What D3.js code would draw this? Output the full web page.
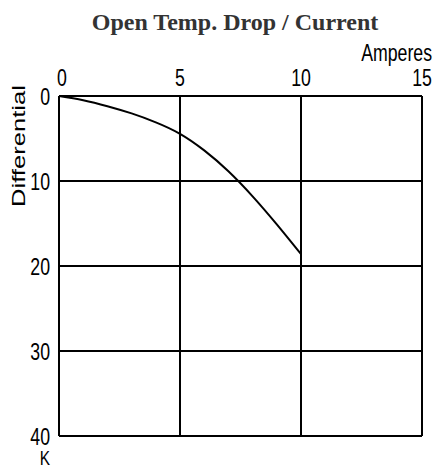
<!DOCTYPE html>
<html>
<head>
<meta charset="utf-8">
<script src="https://d3js.org/d3.v7.min.js"></script>
<style>
  body { margin: 0; background: #fff; }
  .lbl { font-family: "Liberation Sans", Arial, sans-serif; fill: #000; }
</style>
</head>
<body>
<div id="chart"></div>
<script>
// curve values
var amps = [0, 1, 2, 3, 4, 5, 6, 7, 8, 9, 10];
var diffK = [0, 0.5, 1.2, 2.05, 3.1, 4.45, 6.4, 8.85, 11.8, 15.1, 18.6];
var xTicks = [0, 5, 10, 15];
var yTicks = [0, 10, 20, 30, 40];

var W = 433, H = 470;
var margin = {top: 96, right: 10, bottom: 34, left: 59};
var squeeze = 0.77; // the labels use a narrow face

var svg = d3.select("#chart").append("svg")
    .attr("width", W)
    .attr("height", H);

var x = d3.scaleLinear().domain([0, 15]).range([margin.left, W - margin.right - 1]);
var y = d3.scaleLinear().domain([0, 40]).range([margin.top, H - margin.bottom]);

// narrow label helper
function narrow(px, py, txt, size, anchor) {
  var g = svg.append("g")
      .attr("transform", "translate(" + px + "," + py + ") scale(" + squeeze + ",1)");
  g.append("text")
      .attr("class", "lbl")
      .attr("text-anchor", anchor)
      .style("font-size", size + "px")
      .text(txt);
}

// title
svg.append("text")
    .attr("x", 235)
    .attr("y", 30)
    .attr("text-anchor", "middle")
    .style("font-family", "'Liberation Serif', 'Times New Roman', serif")
    .style("font-weight", "bold")
    .style("font-size", "24px")
    .style("fill", "#333")
    .text("Open Temp. Drop / Current");

// grid
svg.append("g").selectAll("line")
    .data(xTicks)
    .enter().append("line")
    .attr("x1", function(d) { return x(d); })
    .attr("x2", function(d) { return x(d); })
    .attr("y1", y(0))
    .attr("y2", y(40))
    .attr("stroke", "#000")
    .attr("stroke-width", 2);

svg.append("g").selectAll("line")
    .data(yTicks)
    .enter().append("line")
    .attr("x1", x(0))
    .attr("x2", x(15))
    .attr("y1", function(d) { return y(d); })
    .attr("y2", function(d) { return y(d); })
    .attr("stroke", "#000")
    .attr("stroke-width", 2);

// x tick labels on top
xTicks.forEach(function(d, i) {
  narrow(x(d) + (i == 0 ? 3 : 0), 86, d, 23, "middle");
});

// y tick labels
yTicks.forEach(function(d) {
  narrow(50, y(d) + 8.5, d, 23, "end");
});

// axis titles
narrow(432, 61, "Amperes", 23, "end");
narrow(45, 465, "K", 20, "middle");

svg.append("text")
    .attr("class", "lbl")
    .attr("transform", "translate(25,146) rotate(-90)")
    .attr("text-anchor", "middle")
    .attr("textLength", 122)
    .attr("lengthAdjust", "spacingAndGlyphs")
    .style("font-size", "18px")
    .text("Differential");

// curve
var pts = amps.map(function(a, i) { return [a, diffK[i]]; });
svg.append("path")
    .datum(pts)
    .attr("d", d3.line()
        .x(function(d) { return x(d[0]); })
        .y(function(d) { return y(d[1]); })
        .curve(d3.curveNatural))
    .attr("fill", "none")
    .attr("stroke", "#000")
    .attr("stroke-width", 2);
</script>
</body>
</html>
